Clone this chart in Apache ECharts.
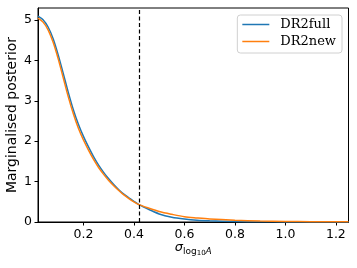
<!DOCTYPE html>
<html>
<head>
<meta charset="utf-8">
<script src="https://cdn.jsdelivr.net/npm/echarts@6/dist/echarts.min.js"></script>
<style>html,body{margin:0;padding:0;background:#fff}#c{width:357px;height:268px}</style>
</head>
<body>
<div id="c"></div>
<script>
var sigma = [0.02,0.04,0.06,0.08,0.10,0.12,0.14,0.16,0.18,0.20,0.22,0.24,0.26,0.28,0.30,0.32,0.34,0.36,0.38,0.40,0.42,0.46,0.50,0.55,0.60,0.65,0.70,0.80,0.90,1.00,1.10,1.25];
var dr2full = [5.10,5.01,4.83,4.54,4.14,3.68,3.21,2.78,2.42,2.12,1.86,1.62,1.41,1.23,1.07,0.93,0.80,0.69,0.60,0.51,0.43,0.31,0.20,0.12,0.075,0.045,0.03,0.012,0.005,0.002,0.001,0.0];
var dr2new = [5.05,4.95,4.76,4.45,4.04,3.57,3.10,2.68,2.32,2.03,1.78,1.55,1.35,1.18,1.03,0.90,0.78,0.67,0.58,0.50,0.43,0.34,0.26,0.19,0.13,0.10,0.075,0.045,0.025,0.015,0.008,0.004];
var xTicks = [0.2,0.4,0.6,0.8,1.0,1.2];
var yTicks = [0,1,2,3,4,5];
var vline = 0.42;

function pairs(xs, ys){ return xs.map(function(x,i){ return [x, ys[i]]; }); }

var chart = echarts.init(document.getElementById('c'), null, {renderer:'canvas'});
var font = 'DejaVu Sans';
var lineIcon = 'path://M0,0 L27,0 L27,1.5 L0,1.5 Z';
chart.setOption({
  animation: false,
  grid: {left: 38, right: 8.5, top: 8, bottom: 46, show: true, borderColor: '#000', borderWidth: 1,
    backgroundColor: 'transparent', containLabel: false, outerBoundsMode: 'none'},
  legend: {
    orient: 'vertical', right: 15, top: 15,
    itemWidth: 27, itemHeight: 1.5, itemGap: 4,
    padding: [3, 6, 5, 5],
    borderColor: '#d0d0d0', borderWidth: 1, borderRadius: 3, backgroundColor: '#fff',
    textStyle: {fontFamily: 'DejaVu Serif', fontSize: 13, color: '#000', padding: [0,0,0,6]},
    data: [{name: 'DR2full', icon: lineIcon}, {name: 'DR2new', icon: lineIcon}]
  },
  xAxis: {
    type: 'value', min: 0.02, max: 1.25,
    axisLine: {show: true, onZero: false, lineStyle: {color: '#000', width: 1}},
    axisTick: {show: true, length: 3.5, customValues: xTicks, lineStyle: {color: '#000'}},
    axisLabel: {customValues: xTicks, fontFamily: font, fontSize: 12.5, color: '#000', margin: 6,
      formatter: function(v){ return v.toFixed(1); }},
    splitLine: {show: false},
    name: '{s|σ}{l|log}{n|10}{a|A}',
    nameLocation: 'middle', nameGap: 16, nameMoveOverlap: false,
    nameTextStyle: {
      rich: {
        s: {fontFamily: font, fontStyle: 'italic', fontSize: 13, color: '#000'},
        l: {fontFamily: font, fontSize: 9, color: '#000', padding: [8,0,0,0]},
        n: {fontFamily: font, fontSize: 7, color: '#000', padding: [12,0,0,0]},
        a: {fontFamily: font, fontStyle: 'italic', fontSize: 9, color: '#000', padding: [8,0,0,0]}
      }
    }
  },
  yAxis: {
    type: 'value', min: 0, max: 5.3,
    axisLine: {show: true, onZero: false, lineStyle: {color: '#000', width: 1}},
    axisTick: {show: true, length: 3.5, customValues: yTicks, lineStyle: {color: '#000'}},
    axisLabel: {customValues: yTicks, fontFamily: font, fontSize: 12.5, color: '#000', margin: 6},
    splitLine: {show: false},
    name: 'Marginalised posterior', nameLocation: 'middle', nameGap: 19, nameMoveOverlap: false,
    nameTextStyle: {fontFamily: font, fontSize: 14, color: '#000'}
  },
  series: [
    {name: 'DR2full', type: 'line', data: pairs(sigma, dr2full), smooth: 0.3, symbol: 'none',
     lineStyle: {color: '#1f77b4', width: 1.5}, itemStyle: {color: '#1f77b4'},
     markLine: {silent: true, symbol: ['none','none'], label: {show: false},
       lineStyle: {color: '#000', type: [4,2.5], width: 1.2}, data: [{xAxis: vline}]}},
    {name: 'DR2new', type: 'line', data: pairs(sigma, dr2new), smooth: 0.3, symbol: 'none',
     lineStyle: {color: '#ff7f0e', width: 1.5}, itemStyle: {color: '#ff7f0e'}}
  ]
});
</script>
</body>
</html>
